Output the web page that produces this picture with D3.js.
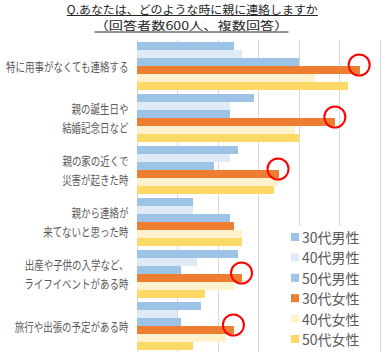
<html>
<head>
<meta charset="utf-8">
<script src="https://d3js.org/d3.v7.min.js"></script>
<style>
  body { margin: 0; background: #fff; }
  text { font-family: "Noto Sans CJK JP", sans-serif; }
  .gridlines line { stroke: #d9d9d9; shape-rendering: crispEdges; }
  .gridlines .domain { stroke: none; }
</style>
</head>
<body>
<div id="chart"></div>
<script>
// categories (label lines)
const categories = [
  ["特に用事がなくても連絡する"],
  ["親の誕生日や", "結婚記念日など"],
  ["親の家の近くで", "災害が起きた時"],
  ["親から連絡が", "来てないと思った時"],
  ["出産や子供の入学など、", "ライフイベントがある時"],
  ["旅行や出張の予定がある時"]
];
const seriesNames = ["30代男性", "40代男性", "50代男性", "30代女性", "40代女性", "50代女性"];
const seriesColors = ["#9dc3e6", "#deebf7", "#9dc3e6", "#ed7d31", "#fff2cc", "#ffd966"];

// values (%) per series, in category order
const male30 = [24, 29, 25, 14, 25, 16];
const male40 = [26, 23, 23, 14, 15, 10];
const male50 = [40, 23, 19, 23, 11, 11];
const female30 = [55, 49, 35, 24, 26, 24];
const female40 = [44, 39, 35, 26, 24, 22];
const female50 = [52, 40, 34, 26, 17, 14];
const seriesValues = [male30, male40, male50, female30, female40, female50];

// categories where the 30代女性 bar is circled
const circled = [0, 1, 2, 4, 5];

const titleLines = ["Q.あなたは、どのような時に親に連絡しますか", "（回答者数600人、複数回答）"];

const width = 385, height = 352;
const svg = d3.select('#chart').append('svg')
  .attr('width', width)
  .attr('height', height);

// title
const titleSpec = [
  { y: 13.5, len: 251, cx: 192.3, uy: 15.5 },
  { y: 30, len: 194, cx: 191.5, uy: 32 }
];
titleLines.forEach((t, i) => {
  const s = titleSpec[i];
  svg.append('text')
    .attr('x', s.cx)
    .attr('y', s.y)
    .attr('text-anchor', 'middle')
    .attr('font-size', 11.5)
    .attr('fill', '#262626')
    .attr('textLength', s.len)
    .attr('lengthAdjust', 'spacingAndGlyphs')
    .text(t);
  svg.append('line')
    .attr('x1', s.cx - s.len / 2)
    .attr('x2', s.cx + s.len / 2)
    .attr('y1', s.uy)
    .attr('y2', s.uy)
    .attr('stroke', '#262626')
    .attr('stroke-width', 1);
});

const plotTop = 40, plotBottom = 352;
const xScale = d3.scaleLinear().domain([0, 60]).range([136.5, 380]);
const yScale = d3.scaleBand().domain(d3.range(categories.length))
  .range([plotTop, plotBottom])
  .paddingInner(4 / 52)
  .paddingOuter(2 / 52);
const inner = d3.scaleBand().domain(d3.range(seriesNames.length))
  .range([0, yScale.bandwidth()]);

// gridlines
const grid = d3.axisBottom(xScale).tickValues(d3.range(0, 61, 10))
  .tickSize(-(plotBottom - plotTop))
  .tickFormat('');
svg.append('g')
  .attr('class', 'gridlines')
  .attr('transform', `translate(0,${plotBottom})`)
  .call(grid);

// bars
seriesValues.forEach((vals, s) => {
  svg.append('g').selectAll('rect')
    .data(vals)
    .join('rect')
    .attr('x', xScale(0) + 0.5)
    .attr('y', (d, i) => yScale(i) + inner(s))
    .attr('width', d => xScale(d) - xScale(0) - 0.5)
    .attr('height', inner.bandwidth())
    .attr('fill', seriesColors[s])
    .attr('shape-rendering', 'crispEdges');
});

// red circles on 30代女性 bars
circled.forEach(i => {
  svg.append('circle')
    .attr('cx', xScale(female30[i]) - 0.5)
    .attr('cy', yScale(i) + inner(3) - 1)
    .attr('r', 10.5)
    .attr('fill', 'none')
    .attr('stroke', '#ff0000')
    .attr('stroke-width', 2);
});

// category labels (narrow font look)
categories.forEach((lines, i) => {
  const cy = yScale(i) + yScale.bandwidth() / 2;
  lines.forEach((line, j) => {
    const off = lines.length === 1 ? 0 : (j === 0 ? -9.5 : 9.5);
    const t = svg.append('text')
      .attr('x', 128.5)
      .attr('y', cy + off)
      .attr('text-anchor', 'end')
      .attr('dominant-baseline', 'central')
      .attr('font-size', 12)
      .attr('fill', '#595959')
      .text(line);
    const len = t.node().getComputedTextLength();
    t.attr('textLength', len * 0.79).attr('lengthAdjust', 'spacingAndGlyphs');
  });
});

// legend
const legend = svg.append('g');
legend.append('rect')
  .attr('x', 284).attr('y', 226)
  .attr('width', 90).attr('height', 126)
  .attr('fill', '#fff');
seriesNames.forEach((name, s) => {
  const cy = 237 + s * 20.4;
  legend.append('rect')
    .attr('x', 291).attr('y', cy - 4)
    .attr('width', 8).attr('height', 8)
    .attr('fill', seriesColors[s]);
  legend.append('text')
    .attr('x', 302).attr('y', cy)
    .attr('dominant-baseline', 'central')
    .attr('font-size', 14)
    .attr('fill', '#595959')
    .text(name);
});
</script>
</body>
</html>
